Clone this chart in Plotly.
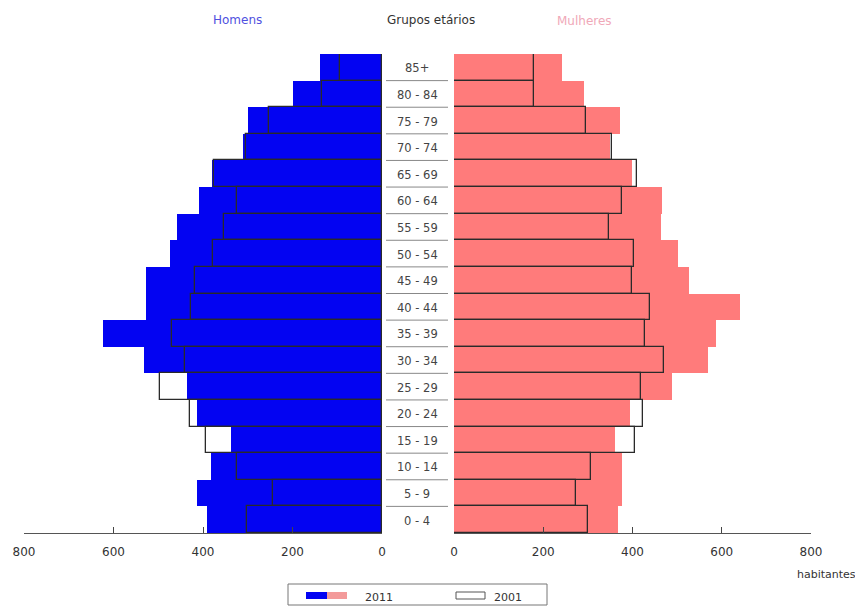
import plotly.graph_objects as go

age_groups = ["0 - 4", "5 - 9", "10 - 14", "15 - 19", "20 - 24", "25 - 29", "30 - 34",
              "35 - 39", "40 - 44", "45 - 49", "50 - 54", "55 - 59", "60 - 64",
              "65 - 69", "70 - 74", "75 - 79", "80 - 84", "85+"]
men_2011 = [392, 414, 383, 337, 414, 436, 532, 623, 527, 527, 474, 457, 409, 381, 311, 299, 198, 138]
men_2001 = [302, 243, 325, 393, 430, 495, 440, 470, 427, 418, 377, 353, 323, 375, 305, 252, 135, 94]
women_2011 = [368, 376, 376, 361, 394, 488, 570, 587, 641, 527, 502, 463, 465, 398, 350, 372, 291, 243]
women_2001 = [301, 273, 306, 405, 424, 420, 471, 429, 440, 398, 403, 348, 376, 411, 354, 296, 179, 179]
x_ticks = [0, 200, 400, 600, 800]

W, H = 863, 606
OFF = 8  # page body margin
def px(x): return (x - OFF) / W
def py(y): return 1 - (y - OFF) / H

BLUE = "#0303F2"
PINK = "#FF7B7B"
OUT = "#2a2a2a"

fig = go.Figure()
fig.add_trace(go.Bar(y=age_groups, x=men_2011, orientation="h", xaxis="x", yaxis="y",
                     marker=dict(color=BLUE, line=dict(width=0)), showlegend=False))
fig.add_trace(go.Bar(y=age_groups, x=men_2001, orientation="h", xaxis="x", yaxis="y",
                     marker=dict(color="rgba(0,0,0,0)", line=dict(color=OUT, width=1.3)), showlegend=False))
fig.add_trace(go.Bar(y=age_groups, x=women_2011, orientation="h", xaxis="x2", yaxis="y",
                     marker=dict(color=PINK, line=dict(width=0)), showlegend=False))
fig.add_trace(go.Bar(y=age_groups, x=women_2001, orientation="h", xaxis="x2", yaxis="y",
                     marker=dict(color="rgba(0,0,0,0)", line=dict(color=OUT, width=1.3)), showlegend=False))

axis_common = dict(showgrid=False, zeroline=False, showline=True, linecolor="#555", linewidth=1,
                   ticks="inside", ticklen=6, tickwidth=1.2, tickcolor="#444", tickvals=x_ticks,
                   ticklabelstandoff=8, automargin=False, layer="above traces",
                   tickfont=dict(family="DejaVu Sans", size=12, color="#333"), fixedrange=True)
shapes = []
annotations = []

def ann(x, y, text, size=12, color="#333", xanchor="center"):
    return dict(x=px(x), y=py(y), xref="paper", yref="paper", text=text, showarrow=False,
                xanchor=xanchor, yanchor="middle", font=dict(family="DejaVu Sans", size=size, color=color))

# separators and labels for age groups
for i, g in enumerate(age_groups):
    annotations.append(dict(x=px(417), xref="paper", y=i, yref="y", text=g, showarrow=False,
                            xanchor="center", yanchor="middle", yshift=-1,
                            font=dict(family="DejaVu Sans", size=11.5, color="#444")))
    if i > 0:
        shapes.append(dict(type="line", xref="paper", yref="y", x0=px(386), x1=px(448),
                           y0=i - 0.5, y1=i - 0.5, line=dict(color="#888", width=1)))

annotations += [
    ann(237, 20, "Homens", 12, "#5050e0"),
    ann(431, 20, "Grupos etários", 12, "#333"),
    ann(584, 21, "Mulheres", 12, "#f0a8b8"),
    ann(826, 574, "habitantes", 11, "#333"),
    ann(363, 597, "2011", 11, "#333", "left"),
    ann(492, 597, "2001", 11, "#333", "left"),
]

# legend box and swatches
shapes += [
    dict(type="rect", xref="paper", yref="paper", x0=px(288), x1=px(547), y0=py(605), y1=py(584),
         line=dict(color="#777", width=1), fillcolor="rgba(0,0,0,0)"),
    dict(type="rect", xref="paper", yref="paper", x0=px(306), x1=px(327), y0=py(599), y1=py(592),
         line=dict(width=0), fillcolor=BLUE),
    dict(type="rect", xref="paper", yref="paper", x0=px(327), x1=px(347), y0=py(599), y1=py(592),
         line=dict(width=0), fillcolor="#f39a9a"),
    dict(type="rect", xref="paper", yref="paper", x0=px(456), x1=px(485), y0=py(599), y1=py(592),
         line=dict(color="#555", width=1), fillcolor="white"),
]

fig.update_layout(
    width=W, height=H, margin=dict(l=0, r=0, t=0, b=0),
    plot_bgcolor="white", paper_bgcolor="white",
    barmode="overlay", bargap=0,
    xaxis=dict(domain=[px(24), px(382)], range=[800, 0], anchor="y", **axis_common),
    xaxis2=dict(domain=[px(454), px(811)], range=[0, 800], anchor="y", **axis_common),
    yaxis=dict(domain=[py(533), py(54)], range=[-0.5, 17.5], type="category",
               categoryorder="array", categoryarray=age_groups,
               showticklabels=False, showgrid=False, zeroline=False, showline=False, ticks="",
               fixedrange=True),
    shapes=shapes, annotations=annotations, showlegend=False,
)

fig.write_html("out.html")
